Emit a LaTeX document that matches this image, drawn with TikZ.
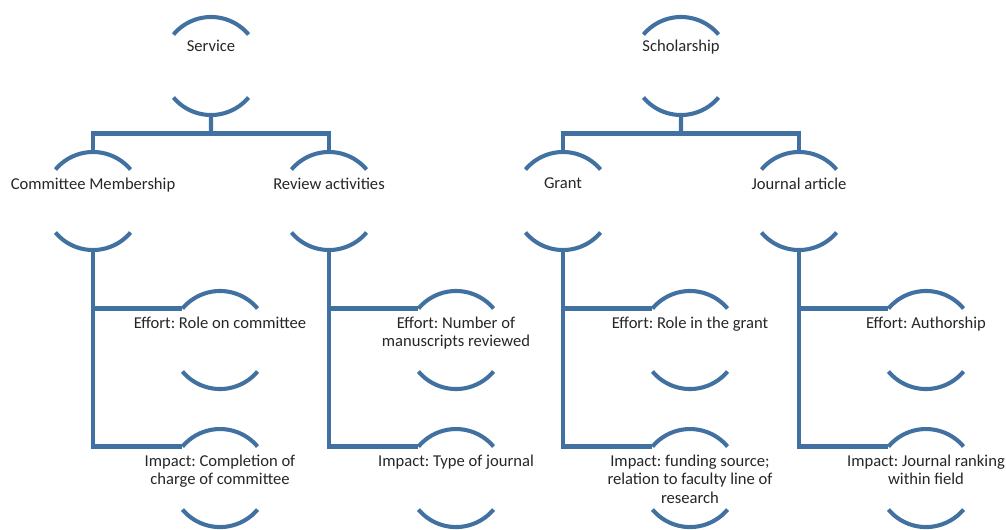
\documentclass[tikz,border=0pt]{standalone}
\usepackage{fontspec}
\setmainfont{Carlito}
\usetikzlibrary{positioning, calc}
\definecolor{arcblue}{RGB}{65,113,160}
\frenchspacing
\tikzset{
    item/.style={circle, minimum size=2.45cm, inner sep=0pt, outer sep=0pt},
    lbl/.style={anchor=north, align=center, inner sep=0pt, yshift=0.59cm, text=black!85,
        font=\fontsize{11.8}{13.3}\selectfont},
    toplbl/.style={lbl, yshift=0.075cm},
    bracket/.style={draw=arcblue, line width=2.9pt},
    conn/.style={draw=arcblue, line width=3pt}
}

\begin{document}
\begin{tikzpicture}[x=0.025cm, y=0.025cm]
  \useasboundingbox (0,0) rectangle (1006,-529);

  \node(SV)[item] at (211,-66) {};
  \node(SC)[item] at (681,-66) {};

  \node(CM)[item] at ($(SV)+(-118,-135)$) {};
  \node(RA)[item] at ($(SV)+(118,-135)$) {};
  \node(GR)[item] at ($(SC)+(-118,-135)$) {};
  \node(JA)[item] at ($(SC)+(118,-135)$) {};

  \node(CME)[item] at ($(CM)+(127,-139)$) {};
  \node(CMI)[item, below=1cm of CME] {};
  \node(RAE)[item] at ($(RA)+(127,-139)$) {};
  \node(RAI)[item, below=1cm of RAE] {};
  \node(GRE)[item] at ($(GR)+(127,-139)$) {};
  \node(GRI)[item, below=1cm of GRE] {};
  \node(JAE)[item] at ($(JA)+(127,-139)$) {};
  \node(JAI)[item, below=1cm of JAE] {};

  % texts
  \node(SVt)[toplbl] at (SV) {Service};
  \node(SCt)[toplbl] at (SC) {Scholarship};
  \node(CMt)[lbl] at (CM) {Committee Membership};
  \node(RAt)[lbl] at (RA) {Review activities};
  \node(GRt)[lbl] at (GR) {Grant};
  \node(JAt)[lbl] at (JA) {Journal article};
  \node(CMEt)[lbl] at (CME) {Effort: Role on committee};
  \node(CMIt)[lbl] at (CMI) {Impact: Completion of\\charge of committee};
  \node(RAEt)[lbl] at (RAE) {Effort: Number of\\manuscripts reviewed};
  \node(RAIt)[lbl] at (RAI) {Impact: Type of journal};
  \node(GREt)[lbl] at (GRE) {Effort: Role in the grant};
  \node(GRIt)[lbl] at (GRI) {Impact: funding source;\\relation to faculty line of\\research};
  \node(JAEt)[lbl] at (JAE) {Effort: Authorship};
  \node(JAIt)[lbl] at (JAI) {Impact: Journal ranking\\within field};

  % arcs above and below each text
  \foreach \n in {SV,SC,CM,RA,GR,JA,CME,CMI,RAE,RAI,GRE,GRI,JAE,JAI}{
    \draw[bracket] (\n.40) arc[start angle=40, end angle=140, radius=1.225cm];
    \draw[bracket] (\n.220) arc[start angle=220, end angle=320, radius=1.225cm];
  }

  % tree lines
  \coordinate (SVbar) at ($(SV.south)!.5!(SV.south|-CM.north)$);
  \coordinate (SCbar) at ($(SC.south)!.5!(SC.south|-GR.north)$);
  \draw[conn] (SV.south)--(SVbar);
  \draw[conn] (CM.north)|-(SVbar)-|(RA.north);
  \draw[conn] (SC.south)--(SCbar);
  \draw[conn] (GR.north)|-(SCbar)-|(JA.north);

  \draw[conn] (CM.south)|-(CME.140);
  \draw[conn] (CM.south)|-(CMI.140);
  \draw[conn] (RA.south)|-(RAE.140);
  \draw[conn] (RA.south)|-(RAI.140);
  \draw[conn] (GR.south)|-(GRE.140);
  \draw[conn] (GR.south)|-(GRI.140);
  \draw[conn] (JA.south)|-(JAE.140);
  \draw[conn] (JA.south)|-(JAI.140);
\end{tikzpicture}
\end{document}
